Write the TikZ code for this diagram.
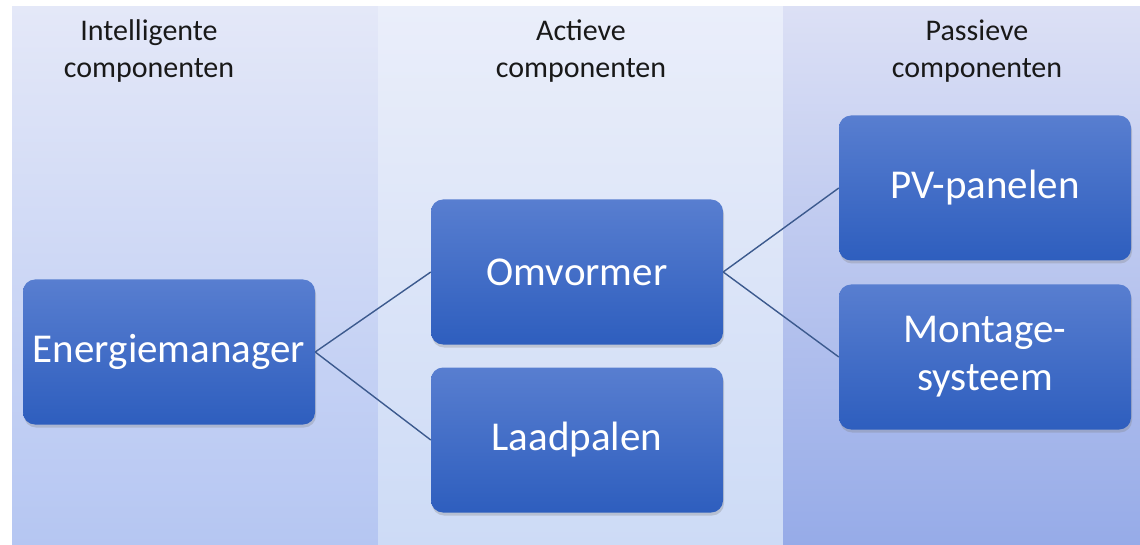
\documentclass[tikz,border=0pt]{standalone}
\usepackage{fontspec}
\setmainfont{Carlito}
\usepackage{tikz}
\usetikzlibrary{shapes,shadows}

\definecolor{boxtop}{HTML}{587ED0}
\definecolor{boxbot}{HTML}{2E5EBE}
\definecolor{edgecol}{HTML}{3C5A8E}

\begin{document}
\begin{tikzpicture}
                [
                x=1pt, y=-1pt,
                header/.style={align=center,text=black!90,font=\fontsize{30}{37}\selectfont},
                comp/.style={rectangle,rounded corners=12pt,minimum width=292pt,minimum height=145pt,
                    top color=boxtop,bottom color=boxbot,text=white,align=center,
                    font=\fontsize{41}{48}\selectfont,
                    drop shadow={opacity=0.3,shadow xshift=1pt,shadow yshift=-3pt}},
                edge/.style={draw=edgecol,line width=1.4pt}
                ]
            \useasboundingbox (0,0) rectangle (1140,545);
            % kolommen
            \fill[top color={rgb,255:red,228;green,232;blue,248},bottom color={rgb,255:red,181;green,198;blue,242}] (12,7) rectangle (378,546);
            \fill[top color={rgb,255:red,234;green,238;blue,250},bottom color={rgb,255:red,205;green,219;blue,246}] (378,7) rectangle (783,546);
            \fill[top color={rgb,255:red,220;green,224;blue,245},bottom color={rgb,255:red,150;green,171;blue,232}] (783,7) rectangle (1141,546);
            \node[header] (h1) at (149,51) {Intelligente\\componenten};
            \node[header] (h2) at (581,51) {Actieve\\componenten};
            \node[header] (h3) at (977,51) {Passieve\\componenten};
            \node[comp] (em) at (169,352) {Energiemanager};
            \node[comp] (omv) at (577,272) {Omvormer};
            \node[comp] (laad) at (577,440) {Laadpalen};
            \node[comp] (pv) at (985,188) {PV-panelen};
            \node[comp] (mont) at (985,357) {Montage-\\systeem};
            \draw[edge] (em.east) -- (omv.west);
            \draw[edge] (em.east) -- (laad.west);
            \draw[edge] (omv.east) -- (pv.west);
            \draw[edge] (omv.east) -- (mont.west);
            \end{tikzpicture}
\end{document}
